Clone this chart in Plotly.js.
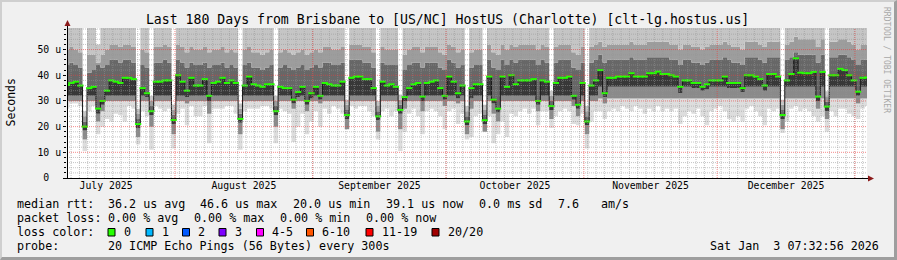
<!DOCTYPE html>
<html><head><meta charset="utf-8">
<script src="https://cdn.plot.ly/plotly-3.0.1.min.js"></script>
<style>
html,body{margin:0;padding:0;background:#f0f0f0;}
#wrap{position:relative;width:897px;height:260px;overflow:hidden;}
#chart{width:897px;height:260px;}
#frame{position:absolute;left:0;top:0;width:897px;height:260px;box-sizing:border-box;border-top:2px solid #cfcfcf;border-left:2px solid #cfcfcf;border-right:3px solid #9e9e9e;border-bottom:3px solid #9e9e9e;pointer-events:none;}
</style></head><body>
<div id="wrap"><div id="chart"></div><div id="frame"></div></div>
<script>
// ---- data (one sample per day, 180 days) ----
const titleText = 'Last 180 Days from Brisbane to [US/NC] HostUS (Charlotte) [clt-lg.hostus.us]';
const rangeStart = '2025-07-07 17:00';
const rangeEnd = '2026-01-03 17:00';
const sampleStartUTC = Date.UTC(2025, 6, 7, 17, 0, 0);
const sampleStepMs = 86400000;

const median = [36.2,37,37.5,36,20.0,35,35.5,27,30,34,
 38,37.5,37,39,39,38.5,21,35,33,26,
 37.5,37.5,38,38,22.6,40,37.5,34,39,36,
 36,38.5,32,37,37.5,39,37,38,37,23,
 36,39.5,36.5,36,35.5,36.5,36.5,26,35.5,35,
 35,30.5,33.5,35.5,30,33,35.5,32,37,36.5,
 36,36,37.5,24.5,39,39.5,39.5,38.5,38.5,35,
 24,37.5,36,36.5,35.5,26.5,31.5,35,36.5,37,
 31.7,37,37.5,38,35,32,39.5,37.5,33,36,
 22,35,36.5,36.5,22.5,39.5,30.5,27,39.5,35.5,
 40,36.5,38,38,38,38.5,30,38,37.5,28,
 37,39,39,39.5,32,28.5,37,22,36,38,
 42,33,39,39,39.5,39.5,39.5,40.8,39.5,39.5,
 39.5,40.8,40.8,41.4,40.5,40.5,40,39.5,35.5,38,
 38,37,37,35.5,36.5,38,38,38,39.5,37,
 37,37,35,40,40,39.5,38.5,36,40.5,40.5,
 39.5,24.5,38,40.5,46.6,41,40.8,40.8,41.3,31.7,
 41.3,27.8,40,40,42.5,42,40,38,33.6,39,
 39.1];

const pingMin = [27,29,29,28,10.5,26,28,17,20,23,
 22,25,24.5,22,28,27,13,26,24,11,
 28,27,26,27,11.5,25,27,20.5,28,24,
 24,28,13.5,27,27,27,28,28,25,11,
 26,27,27,27,28,28,27,13.5,27,26,
 25,14,20,25,17,22,26,20,27,25,
 28,27,25,19,28,27,28,28,26,24,
 15,26,27,24,26,10.5,18,25,27,24,
 17,26,27,26,24,19,26,27,21,25,
 15,16,24,25,18,24,13.5,17,22,16,
 25,24,26,27,25,27,20.5,26,26,19.5,
 24,26,27,26,21,20.5,25,11.5,22,26,
 26,23,26,27,26,28,27,26,28,27,
 25,27,26,28,26,27,26,27,21,24,
 26,25,27,24,20.5,26,27,28,26,23,
 22,24,22,27,28,26,24,20.5,27,26,
 27,17.5,22,27,28,26,27,26,24,22,
 24,18,26,24,27,27,25,24,23,27,
 28];

const ping10 = [30,30,30,30,15,30,30,22,26,30,
 30,30,30,30,30,30,16,30,30,20,
 30,30,30,30,17,30,30,29,30,30,
 30,30,25,30,30,30,30,30,30,17,
 30,30,30,30,30,30,30,20,30,30,
 30,27,30,30,26,30,30,29,30,30,
 30,30,30,19,30,30,30,30,30,30,
 18,30,30,30,30,19,27,30,30,30,
 26,30,30,30,30,28,30,30,29,30,
 17,27,30,30,18,30,25,22,30,30,
 30,30,30,30,30,30,26,30,30,23,
 30,30,30,30,28,24,30,17,30,30,
 31,29,31,31,31,31,31,31,31,31,
 31,31,31,31,31,31,31,31,31,31,
 31,31,31,31,31,31,31,31,31,31,
 31,31,31,31,31,31,31,31,31,31,
 31,19,31,31,31,31,31,31,31,27,
 31,23,31,31,31,31,31,31,29,31,
 31];

const ping25 = [32,32,32,32,18.5,32,32,25,28.5,32,
 32,32,32,32,32,32,19.5,32,31.5,24.5,
 32,32,32,32,21,32,32,31.5,32,32,
 32,32,30,32,32,32,32,32,32,21.5,
 32,32,32,32,32,32,32,24.5,32,32,
 32,29,31.5,32,28.5,31,32,30.5,32,32,
 32,32,32,23,32,32,32,32,32,32,
 22.5,32,32,32,32,25,30,32,32,32,
 30,32,32,32,32,30.5,32,32,31,32,
 20.5,31,32,32,21,32,29,25.5,32,32,
 32,32,32,32,32,32,28.5,32,32,26.5,
 32,32,32,32,30.5,27,32,20.5,32,32,
 35.5,31.5,35.5,35.5,35.5,35.5,35.5,35.5,35.5,35.5,
 35.5,35.5,35.5,35.5,35.5,35.5,35.5,35.5,33,35.5,
 35.5,35,35,34,34.5,35.5,35.5,35.5,35.5,35,
 35,35,33.5,35.5,35.5,35.5,35.5,34,35.5,35.5,
 35.5,23,35.5,35.5,35.5,35.5,35.5,35.5,35.5,30,
 35.5,26,35.5,35.5,35.5,35.5,35.5,35.5,32,35.5,
 35.5];

const ping75 = [44,45,44,43,22,41,42,44,43,44,
 46,46,45,46,46,45,23,44,43,28,
 45,45,46,45,24.6,46,45,43,45,44,
 44,45,43,44,44,45,43,44,43,25,
 44,45,43,43,42,43,44,28,43,44,
 43,42,43,44,42,43,44,43,45,45,
 44,44,45,26.5,46,46,46,45,45,43,
 26,45,44,44,44,28.5,42,44,45,45,
 43,45,45,45,43,42,46,45,43,44,
 24,43,44,44,24.5,46,43,42,46,44,
 46,45,46,46,46,46,44,46,45,30,
 45,46,46,46,43,42,45,24,45,46,
 48,45,46,46,46,46,46,47,46,46,
 46,47,47,47,47,47,46,46,44,46,
 46,45,45,44,45,46,46,46,47,46,
 45,45,44,47,47,47,46,45,47,47,
 47,26.5,46,47,49,48,48,48,48,45,
 48,29.8,47,47,48,48,47,46,44,46,
 46];

const ping90 = [50,51,50,49,24,48,48,45,48,50,
 52,52,51,52,52,51,25,50,49,30,
 51,51,52,51,26.6,52,51,49,51,50,
 50,51,49,50,50,51,49,50,49,27,
 50,51,49,49,48,49,50,30,49,50,
 49,48,49,50,48,49,50,49,51,51,
 50,50,51,28.5,52,52,52,51,51,49,
 28,51,50,50,50,30.5,48,50,51,51,
 49,51,51,51,49,48,52,51,49,50,
 26,49,50,50,26.5,52,49,48,52,50,
 52,51,52,52,52,52,50,52,51,32,
 51,52,52,52,49,48,51,26,51,52,
 53,51,52,52,52,52,52,53,52,52,
 52,53,53,53,53,53,52,52,50,52,
 52,51,51,50,51,52,52,52,53,52,
 51,51,50,53,53,53,52,51,53,53,
 53,28.5,52,53,55,54,54,54,54,51,
 54,31.8,53,53,54,54,53,52,50,52,
 52];

const pingMax = [60,60,60,60,26,60,60,52,60,60,
 60,60,60,60,60,60,27,60,60,32,
 60,60,60,60,28.6,60,60,60,60,60,
 60,60,60,60,60,60,60,60,60,29,
 60,60,60,60,60,60,60,32,60,60,
 60,60,60,60,60,60,60,60,60,60,
 60,60,60,30.5,60,60,60,60,60,60,
 30,60,60,60,60,32.5,60,60,60,60,
 60,60,60,60,60,60,60,60,60,60,
 28,60,60,60,28.5,60,60,60,60,60,
 60,60,60,60,60,60,60,60,60,34,
 60,60,60,60,60,60,60,28,60,60,
 60,60,60,60,60,60,60,60,60,60,
 60,60,60,60,60,60,60,60,60,60,
 60,60,60,60,60,60,60,60,60,60,
 60,60,60,60,60,60,60,60,60,60,
 60,30.5,60,60,60,60,60,60,60,60,
 60,33.8,60,60,60,60,60,60,60,60,
 60];

const yTickVals = [0, 10, 20, 30, 40, 50];
const yTickText = ['0\u00a0\u00a0', '10 u', '20 u', '30 u', '40 u', '50 u'];
const monthLabelVals = ['2025-07-16 12:00','2025-08-16 12:00','2025-09-16 00:00','2025-10-16 12:00','2025-11-16 00:00','2025-12-16 12:00'];
const monthLabels = ['July 2025','August 2025','September 2025','October 2025','November 2025','December 2025'];
const monthStarts = ['2025-08-01','2025-09-01','2025-10-01','2025-11-01','2025-12-01','2026-01-01'];

const statsRtt = ['median rtt:', '36.2 us avg', '46.6 us max', '20.0 us min', '39.1 us now', '0.0 ms sd', '7.6', 'am/s'];
const statsLoss = ['packet loss:', '0.00 % avg', '0.00 % max', '0.00 % min', '0.00 % now'];
const lossLabels = ['0','1','2','3','4-5','6-10','11-19','20/20'];
const lossColors = ['#26ff00','#00b8ff','#0059ff','#7e00ff','#ff00ff','#ff5500','#ff0000','#a10000'];
const probeText = ['probe:', '20 ICMP Echo Pings (56 Bytes) every 300s'];
const stampText = 'Sat Jan  3 07:32:56 2026';

// ---- build ----
const F = 'DejaVu Sans Mono, monospace';
function fmt(ms){ return new Date(ms).toISOString().slice(0,16).replace('T',' '); }
const dates = median.map((_, i) => fmt(sampleStartUTC + i * sampleStepMs));

const PL = 67, PR = 867, PT = 28, PB = 178;
const px2x = p => (p - PL) / (PR - PL);
const py2y = p => (PB - p) / (PB - PT);

function band(y, color){
  return {x: dates, y: y, type:'scatter', mode:'lines', line:{width:0, shape:'hvh'},
    fill: color ? 'tonexty' : 'none', fillcolor: color, hoverinfo:'skip', showlegend:false};
}
const traces = [
  band(pingMin, null),
  band(ping10, '#dddddd'),
  band(ping25, '#8a8a8a'),
  band(median, '#383838'),
  band(ping75, '#676767'),
  band(ping90, '#9d9d9d'),
  band(pingMax, '#c5c5c5'),
  {x: dates, y: median, type:'scatter', mode:'lines', line:{color:'#151515', width:1, shape:'hvh'}, hoverinfo:'skip', showlegend:false},
  {x: dates, y: median, type:'scatter', mode:'markers', marker:{symbol:'line-ew', size:4.5, color:'#26ff00', line:{color:'#26ff00', width:2}}, hoverinfo:'skip', showlegend:false}
];

const shapes = [];
const minorGrid = 'rgba(150,150,150,0.55)';
const majorGrid = 'rgba(235,60,60,0.6)';
for (let v = 2; v < 58.4; v += 2) {
  if (v % 10 === 0) continue;
  shapes.push({type:'line', xref:'paper', yref:'y', x0:0, x1:1, y0:v, y1:v, layer:'above', line:{color:minorGrid, width:1, dash:'1px,1px'}});
}
const anchorMs = Date.UTC(2025, 8, 1);
const spacingMs = 45 * 3600000;
const startMs = sampleStartUTC, endMs = sampleStartUTC + 180 * sampleStepMs;
for (let t = anchorMs - Math.ceil((anchorMs - startMs) / spacingMs) * spacingMs; t <= endMs; t += spacingMs) {
  if (t <= startMs) continue;
  shapes.push({type:'line', xref:'x', yref:'paper', x0:fmt(t), x1:fmt(t), y0:0, y1:1, layer:'above', line:{color:minorGrid, width:1, dash:'1px,1px'}});
}
yTickVals.slice(1).forEach(v => shapes.push({type:'line', xref:'paper', yref:'y', x0:0, x1:1, y0:v, y1:v, layer:'above', line:{color:majorGrid, width:1, dash:'1px,1px'}}));
monthStarts.forEach(d => shapes.push({type:'line', xref:'x', yref:'paper', x0:d, x1:d, y0:0, y1:1, layer:'above', line:{color:majorGrid, width:1, dash:'1px,1px'}}));
shapes.push({type:'line', xref:'paper', yref:'paper', x0:px2x(67.5), x1:px2x(67.5), y0:py2y(178), y1:py2y(22), layer:'above', line:{color:'#000', width:1}});
shapes.push({type:'line', xref:'paper', yref:'paper', x0:px2x(63), x1:px2x(870), y0:py2y(178.5), y1:py2y(178.5), layer:'above', line:{color:'#000', width:1}});
shapes.push({type:'path', xref:'paper', yref:'paper', layer:'above', path:`M${px2x(64.5)},${py2y(26)} L${px2x(70.5)},${py2y(26)} L${px2x(67.5)},${py2y(20)} Z`, fillcolor:'#8b1a1a', line:{width:0}});
shapes.push({type:'path', xref:'paper', yref:'paper', layer:'above', path:`M${px2x(868)},${py2y(175.5)} L${px2x(868)},${py2y(181.5)} L${px2x(874)},${py2y(178.5)} Z`, fillcolor:'#8b1a1a', line:{width:0}});

const annotations = [];
function ann(text, px, py, extra){
  annotations.push(Object.assign({text:text, x:px2x(px), y:py2y(py), xref:'paper', yref:'paper', xanchor:'left', yanchor:'middle', showarrow:false, borderpad:0, font:{family:F, size:11.7, color:'#000'}}, extra || {}));
}
const rttX = [16, 107, 199, 292, 385, 478, 557, 600];
statsRtt.forEach((s, i) => ann(s, rttX[i], 204));
const lossX = [16, 107, 193, 279, 365];
statsLoss.forEach((s, i) => ann(s, lossX[i], 218));
ann('loss color:', 16, 232);
const boxX = [108, 146, 182.5, 219, 256.5, 306.5, 366, 432];
lossLabels.forEach((s, i) => {
  shapes.push({type:'rect', xref:'paper', yref:'paper', x0:px2x(boxX[i]), x1:px2x(boxX[i] + 7), y0:py2y(236), y1:py2y(228.5), fillcolor:lossColors[i], line:{color:'#000', width:1}, layer:'above'});
  ann(s, boxX[i] + 14.5, 232);
});
ann(probeText[0], 16, 246);
ann(probeText[1], 107, 246);
ann(stampText, 880, 246, {xanchor:'right'});
ann('Seconds', 10.5, 103, {xanchor:'center', textangle:-90, font:{family:F, size:11.5, color:'#000'}});
ann('RRDTOOL / TOBI OETIKER', 887, 60, {xanchor:'center', textangle:90, font:{family:F, size:8, color:'#a8a8a8'}});

const layout = {
  width: 897, height: 260,
  margin: {l: PL, r: 897 - PR, t: PT, b: 260 - PB},
  paper_bgcolor: '#f0f0f0', plot_bgcolor: '#ffffff',
  showlegend: false,
  title: {text: titleText, font:{family:F, size:13.2, color:'#000'}, xref:'container', yref:'container', x:0.499, xanchor:'center', y:1 - 19/260, yanchor:'middle'},
  xaxis: {type:'date', range:[rangeStart, rangeEnd], tickmode:'array', tickvals:monthLabelVals, ticktext:monthLabels,
    ticks:'', showgrid:false, zeroline:false, showline:false, tickfont:{family:F, size:9.8, color:'#000'}, fixedrange:true},
  yaxis: {range:[0, 58.4], tickmode:'array', tickvals:yTickVals, ticktext:yTickText, ticks:'outside', ticklen:3, tickcolor:'#000', tickwidth:1,
    showgrid:false, zeroline:false, showline:false, tickfont:{family:F, size:9.8, color:'#000'}, fixedrange:true,
    minor:{tickmode:'array', tickvals:[2,4,6,8,12,14,16,18,22,24,26,28,32,34,36,38,42,44,46,48,52,54,56,58], ticks:'outside', ticklen:2, tickcolor:'#000', showgrid:false}},
  shapes: shapes,
  annotations: annotations
};
Plotly.newPlot('chart', traces, layout, {staticPlot:true, displayModeBar:false});
</script></body></html>
